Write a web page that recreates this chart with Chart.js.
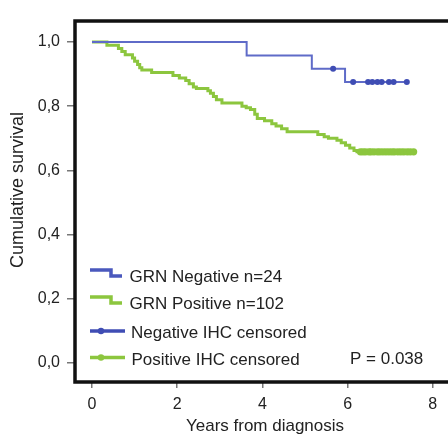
<!DOCTYPE html>
<html><head><meta charset="utf-8">
<script src="https://cdn.jsdelivr.net/npm/chart.js@4.4.0/dist/chart.umd.min.js"></script>
<style>
html,body{margin:0;padding:0;overflow:hidden;background:#fff;width:448px;height:434px}
#wrap{position:absolute;left:0;top:0;width:460px;height:440px}
</style></head><body><div id="wrap"><canvas id="c" width="460" height="440"></canvas></div>
<script>
// ---- data ----
const xTicks = [0, 2, 4, 6, 8];
const yTicks = [0, 0.2, 0.4, 0.6, 0.8, 1.0];

const negTimes = [0, 3.63, 5.16, 5.94, 7.39];
const negSurv  = [1.0, 0.958, 0.917, 0.875, 0.875];
const negCensorTimes = [5.66, 6.13, 6.48, 6.58, 6.70, 6.80, 6.97, 7.08, 7.39];
const negCensorSurv  = [0.917, 0.875, 0.875, 0.875, 0.875, 0.875, 0.875, 0.875, 0.875];

const posTimes = [0, 0.35, 0.62, 0.70, 0.78, 0.95, 1.00, 1.07, 1.12, 1.17, 1.40, 1.90, 2.05, 2.20, 2.28, 2.38, 2.45, 2.72, 2.78, 2.85, 2.92, 3.05, 3.52, 3.62, 3.72, 3.82, 3.88, 4.05, 4.22, 4.32, 4.45, 4.58, 5.30, 5.45, 5.55, 5.75, 5.85, 5.95, 6.05, 6.15, 6.22, 7.56];
const posSurv  = [1.0, 0.99, 0.98, 0.97, 0.96, 0.95, 0.94, 0.93, 0.92, 0.913, 0.905, 0.896, 0.888, 0.88, 0.87, 0.86, 0.855, 0.848, 0.84, 0.83, 0.82, 0.81, 0.80, 0.795, 0.79, 0.775, 0.762, 0.755, 0.745, 0.738, 0.73, 0.72, 0.712, 0.705, 0.70, 0.694, 0.686, 0.678, 0.67, 0.662, 0.658, 0.658];
const posCensorTimes = [6.30, 6.36, 6.42, 6.50, 6.55, 6.62, 6.70, 6.76, 6.83, 6.90, 6.97, 7.04, 7.10, 7.18, 7.25, 7.32, 7.40, 7.47, 7.55];
const posCensorSurv  = [0.658, 0.658, 0.658, 0.658, 0.658, 0.658, 0.658, 0.658, 0.658, 0.658, 0.658, 0.658, 0.658, 0.658, 0.658, 0.658, 0.658, 0.658, 0.658];

const seriesNames = ['GRN Negative n=24', 'GRN Positive n=102', 'Negative IHC censored', 'Positive IHC censored'];
const pValueText = 'P = 0.038';
const xTitle = 'Years from diagnosis';
const yTitle = 'Cumulative survival';

// ---- styling ----
const BLUE_LINE = '#5f6bc8';
const BLUE_MARK = '#3f4db4';
const GREEN = '#8cc63e';
const FONT = '"Liberation Sans", Arial, sans-serif';

const pts = (xs, ys) => xs.map((x, i) => ({x: x, y: ys[i]}));

const framePlugin = {
  id: 'frame',
  afterDraw(chart) {
    const {ctx, chartArea: a} = chart;
    ctx.save();
    ctx.strokeStyle = '#111';
    ctx.lineWidth = 3.5;
    ctx.strokeRect(a.left, a.top, a.right - a.left, a.bottom - a.top);
    // y title
    ctx.translate(18, 190);
    ctx.rotate(-Math.PI / 2);
    ctx.font = '18px ' + FONT;
    ctx.fillStyle = '#222';
    ctx.textAlign = 'center';
    ctx.textBaseline = 'middle';
    ctx.fillText(yTitle, 0, 0);
    ctx.restore();

    // legend
    ctx.save();
    ctx.lineCap = 'butt';
    const stepIcon = (color, y) => {
      ctx.strokeStyle = color;
      ctx.lineWidth = 3.5;
      ctx.beginPath();
      ctx.moveTo(90, y - 3);
      ctx.lineTo(111, y - 3);
      ctx.lineTo(111, y + 3);
      ctx.lineTo(122, y + 3);
      ctx.stroke();
    };
    const censorIcon = (color, y) => {
      ctx.strokeStyle = color;
      ctx.fillStyle = color;
      ctx.lineWidth = 3.5;
      ctx.beginPath();
      ctx.moveTo(90, y);
      ctx.lineTo(125, y);
      ctx.stroke();
      ctx.beginPath();
      ctx.arc(101, y, 3.2, 0, Math.PI * 2);
      ctx.fill();
    };
    stepIcon('#4a58bd', 273);
    stepIcon(GREEN, 300);
    censorIcon(BLUE_MARK, 331);
    censorIcon(GREEN, 357.5);
    ctx.font = '17px ' + FONT;
    ctx.fillStyle = '#222';
    ctx.textAlign = 'left';
    ctx.textBaseline = 'alphabetic';
    ctx.fillText(seriesNames[0], 129.5, 282);
    ctx.fillText(seriesNames[1], 129.5, 309);
    ctx.fillText(seriesNames[2], 131, 338);
    ctx.fillText(seriesNames[3], 131.5, 365);
    ctx.fillText(pValueText, 350, 363.5);
    ctx.restore();
  }
};

new Chart(document.getElementById('c'), {
  type: 'scatter',
  data: {
    datasets: [
      {label: seriesNames[2], data: pts(negCensorTimes, negCensorSurv), showLine: false,
       pointStyle: 'circle', pointRadius: 3, backgroundColor: BLUE_MARK, borderColor: BLUE_MARK, borderWidth: 0},
      {label: seriesNames[3], data: pts(posCensorTimes, posCensorSurv), showLine: false,
       pointStyle: 'circle', pointRadius: 3.6, backgroundColor: GREEN, borderColor: GREEN, borderWidth: 0},
      {label: seriesNames[0], data: pts(negTimes, negSurv), showLine: true, stepped: 'before',
       borderColor: BLUE_LINE, borderWidth: 2, pointRadius: 0, fill: false},
      {label: seriesNames[1], data: pts(posTimes, posSurv), showLine: true, stepped: 'before',
       borderColor: GREEN, borderWidth: 3, pointRadius: 0, fill: false}
    ]
  },
  options: {
    responsive: false,
    animation: false,
    devicePixelRatio: 1,
    layout: {padding: {top: 21, right: 5, left: 0, bottom: 0}},
    plugins: {legend: {display: false}, tooltip: {enabled: false}},
    scales: {
      x: {
        type: 'linear', min: -0.399, max: 8.521,
        afterBuildTicks: s => { s.ticks = xTicks.map(v => ({value: v})); },
        afterFit: s => { s.height = 58; },
        grid: {display: true, drawOnChartArea: false, drawTicks: true, tickLength: 6, color: '#777', lineWidth: 1.5},
        border: {display: false},
        ticks: {padding: 6.5, color: '#222', font: {size: 16, family: FONT}, callback: v => String(v), maxRotation: 0},
        title: {display: true, text: xTitle, color: '#222', font: {size: 17, family: FONT}, padding: {top: 0, bottom: 3.3}}
      },
      y: {
        type: 'linear', min: -0.0592, max: 1.0654,
        afterBuildTicks: s => { s.ticks = yTicks.map(v => ({value: v})); },
        afterFit: s => { s.width = 75; },
        grid: {display: true, drawOnChartArea: false, drawTicks: true, tickLength: 8, color: '#777', lineWidth: 1.5},
        border: {display: false},
        ticks: {padding: 7, color: '#222', font: {size: 16, family: FONT}, callback: v => v.toFixed(1).replace('.', ',')}
      }
    }
  },
  plugins: [framePlugin]
});
</script>
</body></html>
